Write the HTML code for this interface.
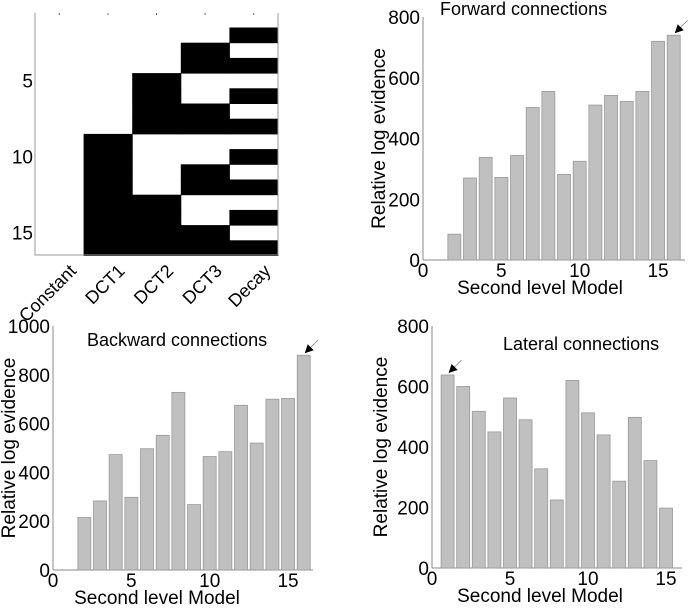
<!DOCTYPE html>
<html><head><meta charset="utf-8"><style>
body{margin:0;background:#fff}svg{display:block;font-family:"Liberation Sans",sans-serif}
</style></head><body>
<svg id="s" width="688" height="610"></svg>
<script>
const fwdModels=[2,3,4,5,6,7,8,9,10,11,12,13,14,15,16];
const fwdValues=[85,270,338,272,344,502,555,282,325,510,542,522,555,720,740];
const bwdModels=[2,3,4,5,6,7,8,9,10,11,12,13,14,15,16];
const bwdValues=[215,283,473,298,497,552,728,268,465,485,675,520,700,703,880];
const latModels=[1,2,3,4,5,6,7,8,9,10,11,12,13,14,15];
const latValues=[638,600,518,450,562,490,328,225,620,513,440,287,498,355,198];
const matCols=["Constant","DCT1","DCT2","DCT3","Decay"];
const matRows=[1,2,3,4,5,6,7,8,9,10,11,12,13,14,15,16];
const xTicks=[0,5,10,15];
const S=document.getElementById('s');const NS="http://www.w3.org/2000/svg";
function el(t,a,txt){const e=document.createElementNS(NS,t);for(const k in a)e.setAttribute(k,a[k]);if(txt!==undefined)e.textContent=txt;S.appendChild(e);return e;}
function chart(p){
  const sx=v=>p.x0+v*p.ux, sy=v=>p.y0-(v/p.ymax)*(p.y0-p.ytop);
  let e=el('line',{x1:p.x0,y1:p.y0,x2:p.xend,y2:p.y0,stroke:'#888','stroke-width':1});
  
  e=el('line',{x1:p.x0,y1:p.y0,x2:p.x0,y2:p.ytop,stroke:'#888','stroke-width':1});
  
  p.models.forEach((m,i)=>{const v=p.vals[i];
    const b=el('rect',{x:sx(m)-6.5,y:sy(v),width:13,height:p.y0-sy(v),fill:'#c0c0c0',stroke:'#999','stroke-width':0.8});
    });
  p.yt.forEach(t=>{const tx=el('text',{x:p.x0-3,y:sy(t)+7,'text-anchor':'end','font-size':19},t);
    });
  xTicks.forEach(t=>{const tx=el('text',{x:sx(t),y:p.y0+17,'text-anchor':'middle','font-size':19},t);
    });
  let xt=el('text',{x:p.xtc,y:p.y0+34,'text-anchor':'middle','font-size':19},'Second level Model');
  
  let yc=(p.y0+p.ytop)/2;
  let yt=el('text',{x:p.ylx,y:yc,'text-anchor':'middle','font-size':19,transform:`rotate(-90 ${p.ylx} ${yc})`},'Relative log evidence');
  
  let tt=el('text',{x:p.tx,y:p.ty,'font-size':18},p.title);
  
  let bi=p.vals.indexOf(Math.max(...p.vals));const ax=sx(p.models[bi])+1,ay=sy(p.vals[bi])-2;
  let l=el('line',{x1:ax+4,y1:ay-4,x2:ax+13,y2:ay-13,stroke:'#888','stroke-width':0.8});
  
  let h=el('polygon',{points:`${ax},${ay} ${ax+9},${ay-3} ${ax+3},${ay-9}`,fill:'#000'});
  
}
chart({id:'forward',models:fwdModels,vals:fwdValues,x0:423,ux:15.67,xend:685,y0:260,ytop:17,ymax:800,yt:[0,200,400,600,800],ylx:385,xtc:540,title:'Forward connections',tx:440,ty:15});
chart({id:'backward',models:bwdModels,vals:bwdValues,x0:53,ux:15.67,xend:313,y0:570,ytop:326,ymax:1000,yt:[0,200,400,600,800,1000],ylx:15,xtc:157,title:'Backward connections',tx:87,ty:346});
chart({id:'lateral',models:latModels,vals:latValues,x0:432,ux:15.6,xend:682,y0:568,ytop:326,ymax:800,yt:[0,200,400,600,800],ylx:387,xtc:540,title:'Lateral connections',tx:503,ty:350});
const mx0=35,mx1=278,my0=12.3,rh=15.2,cw=(mx1-mx0)/5;
matRows.forEach((r,ri)=>{matCols.forEach((c,ci)=>{
  const bit=ci===0?0:((r-1)>>(4-ci))&1;
  if(bit){const q=el('rect',{x:mx0+ci*cw,y:my0+ri*rh,width:cw+0.5,height:rh+0.5,fill:'#000'});
    }
});});
let a=el('path',{d:`M${mx0} 13 V255 H${mx1} V13`,fill:'none',stroke:'#999','stroke-width':1});

[5,10,15].forEach(r=>{const t=el('text',{x:33,y:my0+(r-0.5)*rh+7,'text-anchor':'end','font-size':19},r);
  });
matCols.forEach((c,ci)=>{const cx=mx0+(ci+0.5)*cw;
  const tk=el('line',{x1:cx,y1:13,x2:cx,y2:15,stroke:'#666'});
  const ax=cx+18,ay=272;
  const t=el('text',{x:ax,y:ay,'text-anchor':'end','font-size':18,transform:`rotate(-45 ${ax} ${ay})`},c);
  });
</script>
</body></html>
